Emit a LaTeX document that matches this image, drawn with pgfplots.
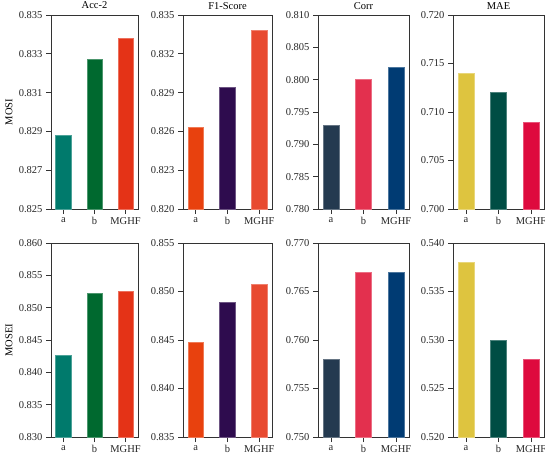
\documentclass[border=0pt]{standalone}
\usepackage{fontspec}
\setmainfont{Liberation Serif}
\usepackage{pgfplots}
\pgfplotsset{compat=1.18}
\definecolor{framegray}{HTML}{333333}
\definecolor{acca}{HTML}{007A6C}
\definecolor{accb}{HTML}{00692F}
\definecolor{accc}{HTML}{E43317}
\definecolor{fa}{HTML}{E8410E}
\definecolor{fb}{HTML}{2E0C4E}
\definecolor{fc}{HTML}{E84A30}
\definecolor{ca}{HTML}{243A50}
\definecolor{cb}{HTML}{E3304E}
\definecolor{cc}{HTML}{003B73}
\definecolor{ma}{HTML}{DEC43F}
\definecolor{mb}{HTML}{004D44}
\definecolor{mc}{HTML}{DE0A3E}
\newcommand{\lbl}{\fontsize{10.5}{12}\selectfont}
\pgfplotsset{
  panel/.style={
    scale only axis, height=194pt, anchor=south west,
    xmin=-0.4, xmax=2.4, xtick={0,1,2}, xticklabels={a,b,MGHF},
    ybar, bar width=0.5, bar shift=0pt,
    tick align=outside, major tick length=5pt, tick pos=left,
    axis line style={line width=0.8pt, color=framegray},
    every tick/.style={line width=0.8pt, color=framegray},
    ticklabel style={font=\lbl, color=black!85},
    /pgf/number format/assume math mode=true,
    /pgf/number format/fixed, /pgf/number format/fixed zerofill,
    /pgf/number format/precision=3,
    scaled y ticks=false,
    title style={font=\lbl, at={(0.5,1)}, anchor=base, yshift=0pt},
    every axis y label/.style={font=\lbl, at={(axis description cs:-0.483,0.5)}, rotate=90, anchor=center},
    clip=true,
  },
}
\begin{document}
\begin{tikzpicture}
\useasboundingbox (0,0) rectangle (545pt,456pt);
% ---------- top row: MOSI ----------
\begin{axis}[panel, at={(51pt,247pt)}, width=87pt, title={Acc-2}, ylabel={MOSI},
  ymin=0.825, ymax=0.835, ytick={0.825,0.827,0.829,0.831,0.833,0.835}]
\addplot[fill=acca, draw=acca!70!white] coordinates {(0,0.8288)};
\addplot[fill=accb, draw=accb!70!white] coordinates {(1,0.8327)};
\addplot[fill=accc, draw=accc!70!white] coordinates {(2,0.8338)};
\end{axis}
\begin{axis}[panel, at={(183pt,247pt)}, width=89pt, title={F1-Score},
  ymin=0.820, ymax=0.835, ytick={0.820,0.823,0.826,0.829,0.832,0.835}]
\addplot[fill=fa, draw=fa!70!white] coordinates {(0,0.8263)};
\addplot[fill=fb, draw=fb!70!white] coordinates {(1,0.8294)};
\addplot[fill=fc, draw=fc!70!white] coordinates {(2,0.8338)};
\end{axis}
\begin{axis}[panel, at={(318pt,247pt)}, width=91pt, title={Corr},
  ymin=0.780, ymax=0.810, ytick={0.780,0.785,0.790,0.795,0.800,0.805,0.810}]
\addplot[fill=ca, draw=ca!70!white] coordinates {(0,0.793)};
\addplot[fill=cb, draw=cb!70!white] coordinates {(1,0.800)};
\addplot[fill=cc, draw=cc!70!white] coordinates {(2,0.802)};
\end{axis}
\begin{axis}[panel, at={(453pt,247pt)}, width=91pt, title={MAE},
  ymin=0.700, ymax=0.720, ytick={0.700,0.705,0.710,0.715,0.720}]
\addplot[fill=ma, draw=ma!70!white] coordinates {(0,0.714)};
\addplot[fill=mb, draw=mb!70!white] coordinates {(1,0.712)};
\addplot[fill=mc, draw=mc!70!white] coordinates {(2,0.709)};
\end{axis}
% ---------- bottom row: MOSEI ----------
\begin{axis}[panel, at={(51pt,19pt)}, width=87pt, ylabel={MOSEI},
  ymin=0.830, ymax=0.860, ytick={0.830,0.835,0.840,0.845,0.850,0.855,0.860}]
\addplot[fill=acca, draw=acca!70!white] coordinates {(0,0.8427)};
\addplot[fill=accb, draw=accb!70!white] coordinates {(1,0.8522)};
\addplot[fill=accc, draw=accc!70!white] coordinates {(2,0.8525)};
\end{axis}
\begin{axis}[panel, at={(183pt,19pt)}, width=89pt,
  ymin=0.835, ymax=0.855, ytick={0.835,0.840,0.845,0.850,0.855}]
\addplot[fill=fa, draw=fa!70!white] coordinates {(0,0.8448)};
\addplot[fill=fb, draw=fb!70!white] coordinates {(1,0.8489)};
\addplot[fill=fc, draw=fc!70!white] coordinates {(2,0.8508)};
\end{axis}
\begin{axis}[panel, at={(318pt,19pt)}, width=91pt,
  ymin=0.750, ymax=0.770, ytick={0.750,0.755,0.760,0.765,0.770}]
\addplot[fill=ca, draw=ca!70!white] coordinates {(0,0.758)};
\addplot[fill=cb, draw=cb!70!white] coordinates {(1,0.767)};
\addplot[fill=cc, draw=cc!70!white] coordinates {(2,0.767)};
\end{axis}
\begin{axis}[panel, at={(453pt,19pt)}, width=91pt,
  ymin=0.520, ymax=0.540, ytick={0.520,0.525,0.530,0.535,0.540}]
\addplot[fill=ma, draw=ma!70!white] coordinates {(0,0.538)};
\addplot[fill=mb, draw=mb!70!white] coordinates {(1,0.530)};
\addplot[fill=mc, draw=mc!70!white] coordinates {(2,0.528)};
\end{axis}
\end{tikzpicture}
\end{document}
